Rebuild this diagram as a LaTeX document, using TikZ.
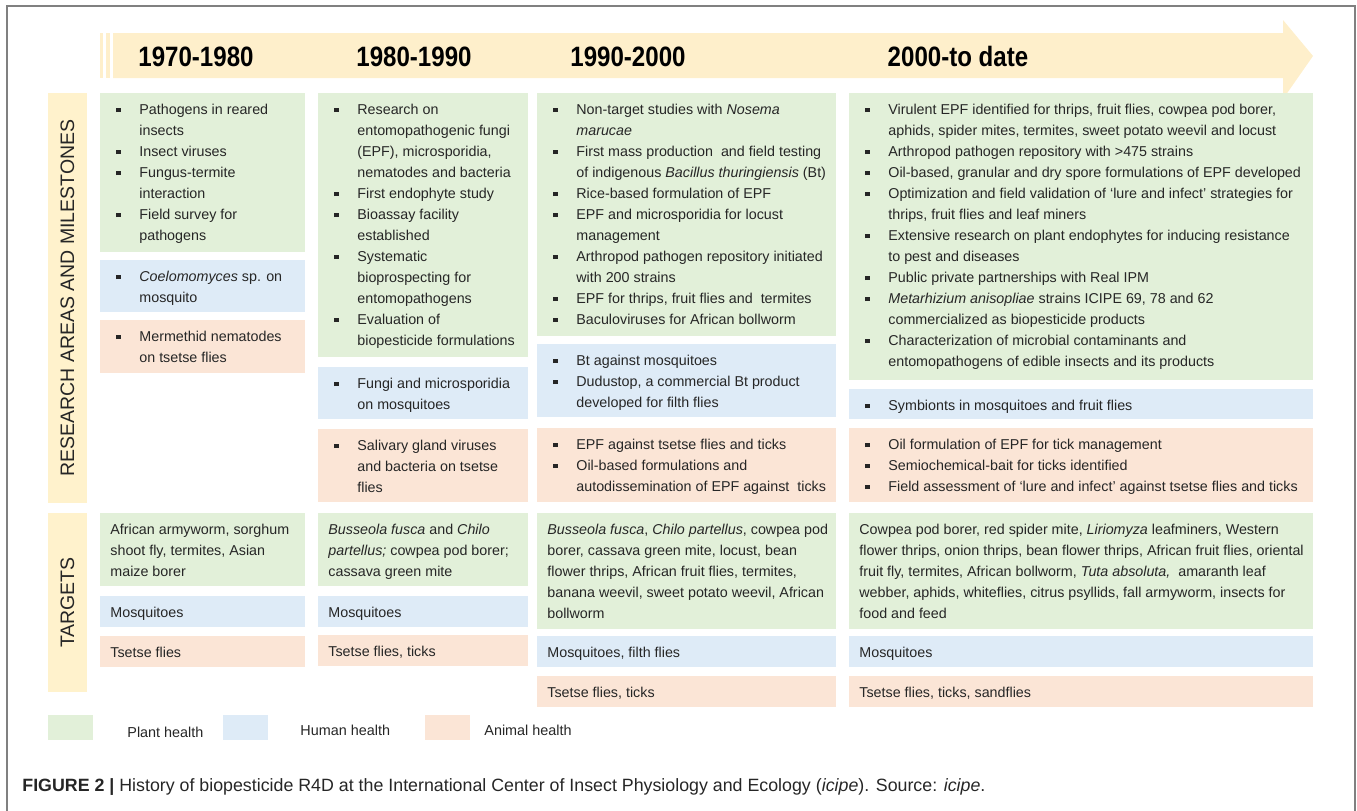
\documentclass[tikz,border=0pt]{standalone}
\usepackage{fontspec}
\setmainfont{Liberation Sans}
\newfontfamily\hdrfont[FakeStretch=0.86]{Liberation Sans}
\usetikzlibrary{positioning}
\definecolor{grn}{HTML}{E2F0D9}
\definecolor{blu}{HTML}{DEEBF7}
\definecolor{org}{HTML}{FBE5D6}
\definecolor{yel}{HTML}{FFF2CC}
\definecolor{arw}{HTML}{FEEFCB}
\definecolor{txt}{HTML}{262626}
\newdimen\px \px=0.5pt
\newcommand{\itm}[1]{\par\noindent\hangindent=39\px\hangafter=1\makebox[39\px][l]{\hspace{16\px}\rule[2\px]{4.5\px}{4.5\px}}#1\par}
\newcommand{\tgt}[1]{\par\noindent\hangindent=10\px\hangafter=0 #1\par}

\begin{document}
\begin{tikzpicture}[%
x={(0.5pt,0pt)},
y={(0pt,-0.5pt)},
panel/.style n args={3}{fill=#1, inner sep=0pt, anchor=north west, text=txt,
  font=\fontsize{7.15}{10.5}\selectfont,
  execute at begin node={\begin{minipage}[t][#3\px][t]{#2\px}\hyphenpenalty=10000\vspace*{10.3\px}},
  execute at end node={\end{minipage}}},
side/.style={fill=yel, inner sep=0pt, rotate=90, minimum height=19.5pt, text=txt,
  font=\fontsize{9.75}{12}\selectfont},
hdr/.style={anchor=base, inner sep=0pt, text=black, font=\hdrfont\fontsize{14}{16}\selectfont\bfseries},
swatch/.style={fill=#1, inner sep=0pt, anchor=north west, minimum width=22.5pt, minimum height=12.5pt},
lgd/.style={anchor=base west, inner sep=0pt, text=txt, font=\fontsize{7.2}{9}\selectfont},
]

\useasboundingbox (0,0) rectangle (1357,810);

%Rahmen
\draw[gray, line width=0.8pt] (7,840) |- (1355,6) -- (1355,840);

%Zeitachse
\fill[arw] (113,33) -- (1283,33) -- (1283,20) -- (1313,56) -- (1283,99)
  -- (1283,78) -- (113,78) -- cycle;
\fill[arw] (100,33) rectangle (103,78);
\fill[arw] (106,33) rectangle (110,78);
\node[hdr] (h1) at (196,66) {1970-1980};
\node[hdr] (h2) at (414,66) {1980-1990};
\node[hdr] (h3) at (628,66) {1990-2000};
\node[hdr] (h4) at (958,66) {2000-to date};

%Seiten
\node[side, minimum width=205pt] (ram) at (67.5,298) {RESEARCH AREAS AND MILESTONES};
\node[side, minimum width=89.5pt] (tgs) at (67.5,602.5) {TARGETS};

%Meilensteine
\node[panel={grn}{205}{159}] (m1g) at (100,93) {%
\itm{Pathogens in reared\\insects}
\itm{Insect viruses}
\itm{Fungus-termite\\interaction}
\itm{Field survey for\\pathogens}};
\node[panel={blu}{205}{52}] (m1b) at (100,260) {%
\itm{\textit{Coelomomyces} sp. on\\mosquito}};
\node[panel={org}{205}{53}] (m1o) at (100,320) {%
\itm{Mermethid nematodes\\on tsetse flies}};

\node[panel={grn}{210}{264}] (m2g) at (318,93) {%
\itm{Research on\\entomopathogenic fungi\\(EPF), microsporidia,\\nematodes and bacteria}
\itm{First endophyte study}
\itm{Bioassay facility\\established}
\itm{Systematic\\bioprospecting for\\entomopathogens}
\itm{Evaluation of\\biopesticide formulations}};
\node[panel={blu}{210}{52}] (m2b) at (318,367) {%
\itm{Fungi and microsporidia\\on mosquitoes}};
\node[panel={org}{210}{73}] (m2o) at (318,429) {%
\itm{Salivary gland viruses\\and bacteria on tsetse\\flies}};

\node[panel={grn}{299}{243}] (m3g) at (537,93) {%
\itm{Non-target studies with \textit{Nosema}\\\textit{marucae}}
\itm{First mass production\ \ and field testing\\of indigenous \textit{Bacillus thuringiensis} (Bt)}
\itm{Rice-based formulation of EPF}
\itm{EPF and microsporidia for locust\\management}
\itm{Arthropod pathogen repository initiated\\with 200 strains}
\itm{EPF for thrips, fruit flies and\ \ termites}
\itm{Baculoviruses for African bollworm}};
\node[panel={blu}{299}{73}] (m3b) at (537,344) {%
\itm{Bt against mosquitoes}
\itm{Dudustop, a commercial Bt product\\developed for filth flies}};
\node[panel={org}{299}{74}] (m3o) at (537,428) {%
\itm{EPF against tsetse flies and ticks}
\itm{Oil-based formulations and\\autodissemination of EPF against\ \ ticks}};

\node[panel={grn}{464}{287}] (m4g) at (849,93) {%
\itm{Virulent EPF identified for thrips, fruit flies, cowpea pod borer,\\aphids, spider mites, termites, sweet potato weevil and locust}
\itm{Arthropod pathogen repository with >475 strains}
\itm{Oil-based, granular and dry spore formulations of EPF developed}
\itm{Optimization and field validation of `lure and infect' strategies for\\thrips, fruit flies and leaf miners}
\itm{Extensive research on plant endophytes for inducing resistance\\to pest and diseases}
\itm{Public private partnerships with Real IPM}
\itm{\textit{Metarhizium anisopliae} strains ICIPE 69, 78 and 62\\commercialized as biopesticide products}
\itm{Characterization of microbial contaminants and\\entomopathogens of edible insects and its products}};
\node[panel={blu}{464}{30}] (m4b) at (849,389) {%
\itm{Symbionts in mosquitoes and fruit flies}};
\node[panel={org}{464}{74}] (m4o) at (849,428) {%
\itm{Oil formulation of EPF for tick management}
\itm{Semiochemical-bait for ticks identified}
\itm{Field assessment of `lure and infect' against tsetse flies and ticks}};

%Ziele
\node[panel={grn}{205}{73}] (t1g) at (100,513) {%
\tgt{African armyworm, sorghum\\shoot fly, termites, Asian\\maize borer}};
\node[panel={blu}{205}{31}] (t1b) at (100,596) {\tgt{Mosquitoes}};
\node[panel={org}{205}{31}] (t1o) at (100,636) {\tgt{Tsetse flies}};

\node[panel={grn}{210}{73}] (t2g) at (318,513) {%
\tgt{\textit{Busseola fusca} and \textit{Chilo}\\\textit{partellus;} cowpea pod borer;\\cassava green mite}};
\node[panel={blu}{210}{31}] (t2b) at (318,596) {\tgt{Mosquitoes}};
\node[panel={org}{210}{31}] (t2o) at (318,635) {\tgt{Tsetse flies, ticks}};

\node[panel={grn}{299}{116}] (t3g) at (537,513) {%
\tgt{\textit{Busseola fusca}, \textit{Chilo partellus}, cowpea pod\\borer, cassava green mite, locust, bean\\flower thrips, African fruit flies, termites,\\banana weevil, sweet potato weevil, African\\bollworm}};
\node[panel={blu}{299}{31}] (t3b) at (537,636) {\tgt{Mosquitoes, filth flies}};
\node[panel={org}{299}{31}] (t3o) at (537,676) {\tgt{Tsetse flies, ticks}};

\node[panel={grn}{464}{116}] (t4g) at (849,513) {%
\tgt{Cowpea pod borer, red spider mite, \textit{Liriomyza} leafminers, Western\\flower thrips, onion thrips, bean flower thrips, African fruit flies, oriental\\fruit fly, termites, African bollworm, \textit{Tuta absoluta,}\ \ amaranth leaf\\webber, aphids, whiteflies, citrus psyllids, fall armyworm, insects for\\food and feed}};
\node[panel={blu}{464}{31}] (t4b) at (849,636) {\tgt{Mosquitoes}};
\node[panel={org}{464}{31}] (t4o) at (849,676) {\tgt{Tsetse flies, ticks, sandflies}};

%Legende
\node[swatch=grn] (sg) at (48,715) {};
\node[swatch=blu] (sb) at (223,715) {};
\node[swatch=org] (so) at (425,715) {};
\node[lgd] (lg) at (127,737) {Plant health};
\node[lgd] (lb) at (300,735) {Human health};
\node[lgd] (lo) at (484,735) {Animal health};

%Unterschrift
\node[anchor=base west, inner sep=0pt, text=txt, font=\fontsize{8.9}{11}\selectfont] (cap) at (22,791)
  {\textbf{FIGURE 2 |} History of biopesticide R4D at the International Center of Insect Physiology and Ecology (\textit{icipe}). Source: \textit{icipe}.};

\end{tikzpicture}
\end{document}
